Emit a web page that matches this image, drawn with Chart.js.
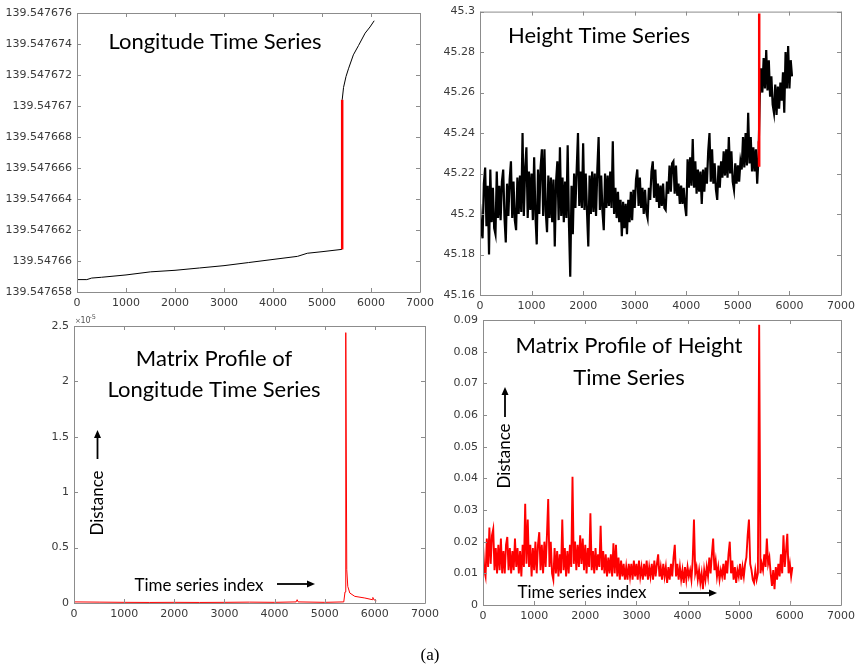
<!DOCTYPE html>
<html>
<head>
<meta charset="utf-8">
<title>Matrix profile</title>
<script src="https://cdn.jsdelivr.net/npm/chart.js@4.4.0/dist/chart.umd.min.js"></script>
<style>
  html, body { margin: 0; padding: 0; background: #fff; }
  #wrap { position: relative; width: 860px; height: 666px; overflow: hidden; }
  #wrap canvas { position: absolute; left: 0; top: 0; }
  #caption {
    position: absolute; left: 0; top: 645px; width: 860px; line-height: 20px;
    text-align: center; font: 17px "Liberation Serif", "Times New Roman", serif; color: #000;
  }
</style>
</head>
<body>
<div id="wrap">
  <canvas id="lonChart" width="860" height="666"></canvas>
  <canvas id="heightChart" width="860" height="666"></canvas>
  <canvas id="lonMpChart" width="860" height="666"></canvas>
  <canvas id="heightMpChart" width="860" height="666"></canvas>
  <div id="caption">(a)</div>
</div>
<script>
// shared x axis (time series index)
const indexTicks = [0, 1000, 2000, 3000, 4000, 5000, 6000, 7000];

// longitude time series
const lonIdx = [0, 200, 300, 500, 1000, 1500, 2000, 2500, 3000, 3500, 4000, 4500, 4700, 5000, 5405,
                5412, 5440, 5490, 5540, 5640, 5745, 5880, 5980, 6065];
const lonVals = [139.5476588, 139.5476588, 139.5476589, 139.54765895, 139.5476591, 139.5476593, 139.5476594,
                 139.54765955, 139.5476597, 139.5476599, 139.5476601, 139.5476603, 139.5476605, 139.5476606,
                 139.54766075, 139.5476704, 139.5476712, 139.5476719, 139.5476724, 139.5476733, 139.5476739,
                 139.5476747, 139.5476751, 139.5476755];
const lonJumpIdx = [5412, 5412];
const lonJumpVals = [139.54766075, 139.5476704];
const lonTicks = [139.547658, 139.54766, 139.547662, 139.547664, 139.547666, 139.547668, 139.54767,
                  139.547672, 139.547674, 139.547676];

// height time series, one sample every 25 indices from 0
const heightStep = 25;
const heightVals = [
  45.205, 45.192, 45.188, 45.215, 45.223, 45.194, 45.214, 45.180, 45.222, 45.196, 45.213, 45.193,
  45.190, 45.221, 45.198, 45.214, 45.197, 45.216, 45.222, 45.198, 45.186, 45.215, 45.199, 45.217,
  45.226, 45.198, 45.216, 45.197, 45.192, 45.218, 45.200, 45.219, 45.201, 45.240, 45.199, 45.222,
  45.233, 45.198, 45.221, 45.202, 45.220, 45.197, 45.228, 45.199, 45.185, 45.222, 45.200, 45.223,
  45.232, 45.199, 45.232, 45.201, 45.191, 45.219, 45.198, 45.218, 45.196, 45.217, 45.184, 45.216,
  45.226, 45.197, 45.233, 45.199, 45.218, 45.196, 45.216, 45.198, 45.234, 45.195, 45.169, 45.214,
  45.190, 45.220, 45.203, 45.222, 45.240, 45.204, 45.221, 45.203, 45.235, 45.202, 45.220, 45.201,
  45.184, 45.219, 45.200, 45.221, 45.201, 45.220, 45.199, 45.222, 45.238, 45.202, 45.219, 45.201,
  45.192, 45.220, 45.203, 45.219, 45.204, 45.221, 45.203, 45.236, 45.200, 45.213, 45.198, 45.211,
  45.196, 45.207, 45.189, 45.206, 45.193, 45.205, 45.190, 45.207, 45.196, 45.211, 45.197, 45.212,
  45.203, 45.217, 45.222, 45.204, 45.218, 45.203, 45.213, 45.200, 45.212, 45.201, 45.198, 45.213,
  45.207, 45.221, 45.226, 45.208, 45.222, 45.206, 45.215, 45.203, 45.214, 45.204, 45.215, 45.203,
  45.202, 45.216, 45.210, 45.224, 45.211, 45.225, 45.226, 45.210, 45.224, 45.209, 45.215, 45.205,
  45.214, 45.205, 45.213, 45.204, 45.199, 45.227, 45.213, 45.228, 45.214, 45.237, 45.213, 45.226,
  45.210, 45.222, 45.211, 45.221, 45.205, 45.222, 45.211, 45.223, 45.215, 45.231, 45.240, 45.216,
  45.232, 45.215, 45.225, 45.212, 45.207, 45.224, 45.213, 45.226, 45.218, 45.231, 45.219, 45.232,
  45.218, 45.238, 45.220, 45.231, 45.216, 45.212, 45.225, 45.215, 45.224, 45.216, 45.226, 45.222,
  45.238, 45.223, 45.240, 45.224, 45.250, 45.225, 45.238, 45.221, 45.233, 45.221, 45.232, 45.215,
  45.228, 45.258, 45.272, 45.260, 45.277, 45.262, 45.281, 45.261, 45.276, 45.258, 45.268, 45.254,
  45.250, 45.264, 45.249, 45.263, 45.252, 45.265, 45.256, 45.270, 45.250, 45.280, 45.262, 45.283,
  45.262, 45.276, 45.268
];
const heightJumpIdx = [5405, 5412, 5414];
const heightJumpVals = [45.236, 45.224, 45.299];
const heightTicks = [45.16, 45.18, 45.2, 45.22, 45.24, 45.26, 45.28, 45.3];

// matrix profile of the longitude series
const lonMpIdx = [0, 500, 1000, 1500, 2000, 2500, 3000, 3500, 4000, 4430, 4450, 4470, 5000, 5380, 5405,
                  5420, 5440, 5460, 5500, 5600, 5800, 5950, 5960, 5980, 6030];
const lonMpVals = [0.010e-5, 0.008e-5, 0.006e-5, 0.005e-5, 0.006e-5, 0.005e-5, 0.006e-5, 0.008e-5, 0.006e-5,
                   0.010e-5, 0.030e-5, 0.010e-5, 0.006e-5, 0.010e-5, 0.100e-5, 2.44e-5, 0.30e-5, 0.15e-5,
                   0.090e-5, 0.060e-5, 0.045e-5, 0.030e-5, 0.050e-5, 0.030e-5, 0.020e-5];
const lonMpTicks = [0, 0.5e-5, 1e-5, 1.5e-5, 2e-5, 2.5e-5];

// matrix profile of the height series, one sample every 25 indices from 0
const heightMpStep = 25;
const heightMpVals = [
  0.019, 0.011, 0.009, 0.021, 0.012, 0.0245, 0.013, 0.022, 0.024, 0.011, 0.018, 0.010,
  0.019, 0.011, 0.021, 0.010, 0.017, 0.010, 0.019, 0.0215, 0.011, 0.018, 0.010, 0.017,
  0.011, 0.021, 0.012, 0.018, 0.010, 0.017, 0.009, 0.019, 0.012, 0.032, 0.013, 0.027,
  0.012, 0.019, 0.009, 0.018, 0.011, 0.020, 0.010, 0.019, 0.023, 0.011, 0.019, 0.010,
  0.020, 0.012, 0.022, 0.0335, 0.012, 0.020, 0.010, 0.008, 0.018, 0.010, 0.017, 0.009,
  0.016, 0.010, 0.027, 0.011, 0.018, 0.009, 0.017, 0.010, 0.019, 0.012, 0.0405, 0.013,
  0.020, 0.011, 0.019, 0.012, 0.022, 0.013, 0.021, 0.011, 0.019, 0.010, 0.018, 0.012,
  0.029, 0.011, 0.017, 0.010, 0.018, 0.011, 0.016, 0.012, 0.025, 0.011, 0.017, 0.010,
  0.016, 0.009, 0.015, 0.010, 0.016, 0.009, 0.0195, 0.010, 0.019, 0.009, 0.015, 0.008,
  0.014, 0.009, 0.013, 0.008, 0.012, 0.008, 0.013, 0.009, 0.013, 0.008, 0.014, 0.009,
  0.013, 0.008, 0.014, 0.009, 0.012, 0.008, 0.013, 0.009, 0.014, 0.008, 0.012, 0.009,
  0.013, 0.008, 0.014, 0.009, 0.013, 0.016, 0.009, 0.012, 0.008, 0.013, 0.009, 0.012,
  0.007, 0.012, 0.008, 0.013, 0.009, 0.015, 0.019, 0.009, 0.013, 0.008, 0.012, 0.008,
  0.011, 0.007, 0.012, 0.008, 0.012, 0.009, 0.011, 0.008, 0.014, 0.027, 0.010, 0.012,
  0.008, 0.011, 0.007, 0.010, 0.005, 0.011, 0.008, 0.012, 0.009, 0.015, 0.010, 0.016,
  0.021, 0.011, 0.014, 0.009, 0.012, 0.008, 0.011, 0.009, 0.013, 0.008, 0.014, 0.010,
  0.016, 0.020, 0.010, 0.014, 0.008, 0.012, 0.007, 0.011, 0.009, 0.013, 0.008, 0.012,
  0.009, 0.013, 0.015, 0.022, 0.027, 0.013, 0.011, 0.008, 0.007, 0.011, 0.008, 0.010,
  0.0885, 0.010, 0.013, 0.011, 0.016, 0.012, 0.021, 0.013, 0.015, 0.010, 0.006, 0.011,
  0.005, 0.012, 0.008, 0.013, 0.009, 0.016, 0.010, 0.022, 0.012, 0.017, 0.0225, 0.010,
  0.013, 0.009, 0.012
];
const heightMpTicks = [0, 0.01, 0.02, 0.03, 0.04, 0.05, 0.06, 0.07, 0.08, 0.09];

const AXIS_COLOR = "#8c8c8c";
const LABEL_COLOR = "#3a3a3a";
const TITLE_FONT = '22px Lato, "Open Sans", sans-serif';
const NOTE_FONT = '17px Lato, "Open Sans", sans-serif';

const toPoints = (xs, ys) => ys.map((v, i) => ({ x: xs[i], y: v }));
const stepIndex = (vals, step) => vals.map((_, i) => i * step);
const trimNum = (v, digits) => String(Number(v.toFixed(digits)));

// box with inward ticks on all four sides, drawn over the data
const matlabBox = {
    id: "matlabBox",
    afterDatasetsDraw(chart) {
        const { ctx, chartArea: a, scales } = chart;
        const len = 4;
        ctx.save();
        ctx.strokeStyle = AXIS_COLOR;
        ctx.lineWidth = 1;
        ctx.beginPath();
        scales.x.ticks.forEach((t) => {
            const px = Math.round(scales.x.getPixelForValue(t.value)) + 0.5;
            ctx.moveTo(px, a.bottom); ctx.lineTo(px, a.bottom - len);
            ctx.moveTo(px, a.top); ctx.lineTo(px, a.top + len);
        });
        scales.y.ticks.forEach((t) => {
            const py = Math.round(scales.y.getPixelForValue(t.value)) + 0.5;
            ctx.moveTo(a.left, py); ctx.lineTo(a.left + len, py);
            ctx.moveTo(a.right, py); ctx.lineTo(a.right - len, py);
        });
        ctx.rect(a.left + 0.5, a.top + 0.5, a.right - a.left, a.bottom - a.top);
        ctx.stroke();
        ctx.restore();
    },
};

// titles, axis notes and arrows
const notes = {
    id: "notes",
    afterDraw(chart, args, opts) {
        const ctx = chart.ctx;
        ctx.save();
        ctx.fillStyle = "#000";
        ctx.strokeStyle = "#000";
        (opts.texts || []).forEach((t) => {
            ctx.save();
            ctx.font = t.font || TITLE_FONT;
            ctx.fillStyle = t.color || "#000";
            ctx.textAlign = t.align || "center";
            ctx.textBaseline = "alphabetic";
            ctx.translate(t.x, t.y);
            if (t.rotate) ctx.rotate(-Math.PI / 2);
            ctx.fillText(t.text, 0, 0);
            ctx.restore();
        });
        (opts.arrows || []).forEach(([x1, y1, x2, y2]) => {
            const ang = Math.atan2(y2 - y1, x2 - x1);
            const head = 8, half = 3.5;
            const bx = x2 - head * Math.cos(ang), by = y2 - head * Math.sin(ang);
            ctx.lineWidth = 1.8;
            ctx.beginPath();
            ctx.moveTo(x1, y1);
            ctx.lineTo(bx, by);
            ctx.stroke();
            ctx.beginPath();
            ctx.moveTo(x2, y2);
            ctx.lineTo(bx - half * Math.sin(ang), by + half * Math.cos(ang));
            ctx.lineTo(bx + half * Math.sin(ang), by - half * Math.cos(ang));
            ctx.closePath();
            ctx.fill();
        });
        ctx.restore();
    },
};

function makeChart(id, area, datasets, yCfg, noteCfg) {
    const ctx = document.getElementById(id).getContext("2d");
    return new Chart(ctx, {
        type: "line",
        data: { datasets },
        options: {
            responsive: false,
            animation: false,
            events: [],
            layout: { padding: { top: area.top, right: 860 - area.right, left: 0, bottom: 0 } },
            elements: { point: { radius: 0 }, line: { tension: 0 } },
            plugins: { legend: { display: false }, tooltip: { enabled: false }, notes: noteCfg },
            scales: {
                x: {
                    type: "linear",
                    min: 0,
                    max: 7000,
                    grid: { display: false, drawTicks: false },
                    border: { display: false },
                    afterBuildTicks: (s) => { s.ticks = indexTicks.map((v) => ({ value: v })); },
                    afterFit: (s) => { s.height = 666 - area.bottom; },
                    ticks: {
                        color: LABEL_COLOR,
                        padding: 5,
                        maxRotation: 0,
                        autoSkip: false,
                        font: { family: "DejaVu Sans", size: 11 },
                        callback: (v) => String(v),
                    },
                },
                y: {
                    type: "linear",
                    min: yCfg.ticks[0],
                    max: yCfg.ticks[yCfg.ticks.length - 1],
                    grid: { display: false, drawTicks: false },
                    border: { display: false },
                    afterBuildTicks: (s) => { s.ticks = yCfg.ticks.map((v) => ({ value: v })); },
                    afterFit: (s) => { s.width = area.left; },
                    ticks: {
                        color: LABEL_COLOR,
                        padding: 5,
                        autoSkip: false,
                        font: { family: "DejaVu Sans", size: 11 },
                        callback: yCfg.format,
                    },
                },
            },
        },
        plugins: [matlabBox, notes],
    });
}

// Longitude Time Series (red jump drawn on top of the black trace)
makeChart("lonChart", { left: 77, top: 13, right: 420, bottom: 292 }, [
    { data: toPoints(lonIdx, lonVals), borderColor: "#000", borderWidth: 1, order: 2 },
    { data: toPoints(lonJumpIdx, lonJumpVals), borderColor: "#ff0000", borderWidth: 2.5, order: 1 },
], { ticks: lonTicks, format: (v) => trimNum(v, 6) }, {
    texts: [{ text: "Longitude Time Series", x: 215, y: 49 }],
});

// Height Time Series
makeChart("heightChart", { left: 480, top: 11, right: 841, bottom: 295 }, [
    { data: toPoints(stepIndex(heightVals, heightStep), heightVals), borderColor: "#000", borderWidth: 2.2, order: 2 },
    { data: toPoints(heightJumpIdx, heightJumpVals), borderColor: "#ff0000", borderWidth: 2.5, order: 1 },
], { ticks: heightTicks, format: (v) => trimNum(v, 2) }, {
    texts: [{ text: "Height Time Series", x: 599, y: 43 }],
});

// Matrix Profile of Longitude Time Series
makeChart("lonMpChart", { left: 74, top: 326, right: 425, bottom: 603 }, [
    { data: toPoints(lonMpIdx, lonMpVals), borderColor: "#ff0000", borderWidth: 1 },
], { ticks: lonMpTicks, format: (v) => trimNum(v / 1e-5, 1) }, {
    texts: [
        { text: "Matrix Profile of", x: 214, y: 366 },
        { text: "Longitude Time Series", x: 214, y: 397 },
        { text: "Distance", x: 103, y: 503, rotate: true, font: NOTE_FONT },
        { text: "Time series index", x: 199, y: 591, font: NOTE_FONT },
        { text: "\u00d7", x: 75, y: 323, align: "left", font: '7px "DejaVu Sans"', color: "#555" },
        { text: "10", x: 80.5, y: 323, align: "left", font: '8px "DejaVu Sans"', color: "#555" },
        { text: "-5", x: 89.5, y: 319, align: "left", font: '6.5px "DejaVu Sans"', color: "#555" },
    ],
    arrows: [[97.5, 459, 97.5, 430], [277, 584, 315, 584]],
});

// Matrix Profile of Height Time Series
makeChart("heightMpChart", { left: 483, top: 320, right: 843, bottom: 605 }, [
    { data: toPoints(stepIndex(heightMpVals, heightMpStep), heightMpVals), borderColor: "#ff0000", borderWidth: 1.9 },
], { ticks: heightMpTicks, format: (v) => trimNum(v, 2) }, {
    texts: [
        { text: "Matrix Profile of Height", x: 629, y: 353 },
        { text: "Time Series", x: 629, y: 385 },
        { text: "Distance", x: 510, y: 456, rotate: true, font: NOTE_FONT },
        { text: "Time series index", x: 582, y: 598, font: NOTE_FONT },
    ],
    arrows: [[505, 417, 505, 387], [679, 593, 717, 593]],
});
</script>
</body>
</html>
